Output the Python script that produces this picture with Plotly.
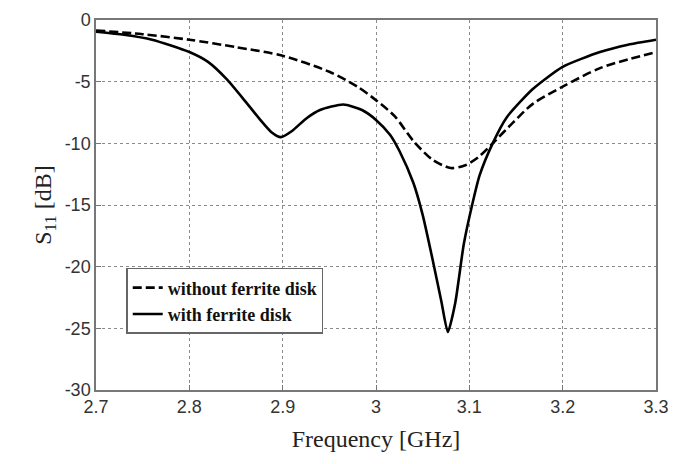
import plotly.graph_objects as go

# S11 response with the ferrite disk
freq_with = [2.70, 2.73, 2.76, 2.80, 2.82, 2.84, 2.86, 2.875, 2.888, 2.898, 2.91, 2.925,
             2.94, 2.965, 2.985, 3.00, 3.015, 3.025, 3.04, 3.05, 3.06, 3.07, 3.077,
             3.085, 3.094, 3.103, 3.111, 3.125, 3.14, 3.168, 3.20, 3.24, 3.27, 3.30]
s11_with = [-0.95, -1.2, -1.6, -2.6, -3.4, -4.8, -6.6, -8.0, -9.1, -9.5, -9.0, -8.0,
            -7.3, -6.85, -7.3, -8.1, -9.3, -10.6, -13.2, -15.8, -19.2, -22.8, -25.3,
            -22.9, -18.2, -15.0, -12.6, -10.0, -7.9, -5.6, -3.8, -2.6, -2.0, -1.6]

# S11 response without the ferrite disk
freq_without = [2.70, 2.75, 2.80, 2.85, 2.90, 2.95, 2.98, 3.00, 3.02, 3.04, 3.06,
                3.08, 3.095, 3.11, 3.125, 3.147, 3.168, 3.20, 3.24, 3.27, 3.30]
s11_without = [-0.85, -1.15, -1.6, -2.2, -2.9, -4.2, -5.4, -6.5, -7.8, -9.8, -11.3,
               -12.0, -11.8, -11.1, -10.0, -8.3, -6.8, -5.4, -3.9, -3.2, -2.6]

x_ticks = [2.7, 2.8, 2.9, 3.0, 3.1, 3.2, 3.3]
x_labels = ["2.7", "2.8", "2.9", "3", "3.1", "3.2", "3.3"]
y_ticks = [0, -5, -10, -15, -20, -25, -30]
y_labels = ["0", "-5", "-10", "-15", "-20", "-25", "-30"]

fig = go.Figure()
fig.add_trace(go.Scatter(
    x=freq_without, y=s11_without, mode="lines", name="<b>without ferrite disk</b>",
    line=dict(color="black", width=2.6, dash="9px,4px", shape="spline", smoothing=0.8),
))
fig.add_trace(go.Scatter(
    x=freq_with, y=s11_with, mode="lines", name="<b>with ferrite disk</b>",
    line=dict(color="black", width=2.6, shape="spline", smoothing=0.6),
))

axis_common = dict(
    showgrid=True, gridcolor="#8a8a8a", griddash="dot", gridwidth=1.2,
    showline=True, linecolor="#777777", linewidth=1.5, mirror=True,
    ticks="inside", ticklen=5, tickcolor="#777777",
    tickfont=dict(family="Liberation Sans, Arial", size=18, color="#333333"),
    zeroline=False,
)

fig.update_layout(
    width=690, height=464,
    margin=dict(l=96, r=34, t=10, b=74),
    paper_bgcolor="white", plot_bgcolor="white",
    xaxis=dict(
        range=[2.7, 3.3], tickvals=x_ticks, ticktext=x_labels,
        title=dict(text="Frequency [GHz]", standoff=14,
                   font=dict(family="Liberation Serif, Times New Roman", size=24, color="#222222")),
        **axis_common,
    ),
    yaxis=dict(
        range=[-30, 0], tickvals=y_ticks, ticktext=y_labels,
        title=dict(text="S<sub>11</sub> [dB]", standoff=6,
                   font=dict(family="Liberation Serif, Times New Roman", size=24, color="#222222")),
        **axis_common,
    ),
    legend=dict(
        x=0.054, y=0.33, xanchor="left", yanchor="top",
        bgcolor="white", bordercolor="#666666", borderwidth=1.5,
        font=dict(family="Liberation Serif, Times New Roman", size=18, color="#111111"),
        tracegroupgap=0, itemwidth=30,
    ),
    showlegend=True,
)

fig.write_html("out.html")
